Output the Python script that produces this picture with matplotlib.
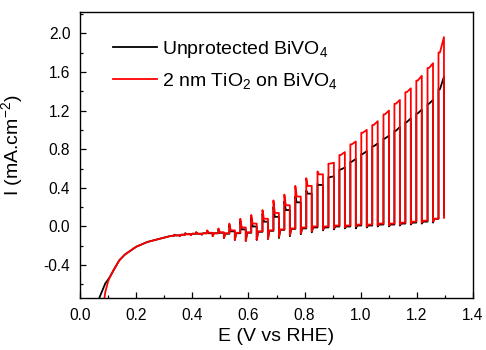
import numpy as np
import matplotlib
matplotlib.use('Agg')
import matplotlib.pyplot as plt

plt.rcParams['font.family'] = ['Liberation Sans', 'DejaVu Sans']
plt.rcParams['mathtext.fontset'] = 'custom'
plt.rcParams['mathtext.rm'] = 'Liberation Sans'
plt.rcParams['mathtext.default'] = 'regular'
plt.rcParams['axes.unicode_minus'] = False

# dark scan before the first light pulse (E in V vs RHE, I in mA/cm2)
dark_E = [0.06, 0.07, 0.08, 0.09, 0.10, 0.107, 0.12, 0.14, 0.16, 0.18,
          0.20, 0.24, 0.28, 0.32]
dark_black = [-0.86, -0.73, -0.66, -0.59, -0.55, -0.52, -0.45, -0.35, -0.29,
              -0.25, -0.21, -0.16, -0.13, -0.10]
dark_red = [np.nan, np.nan, -0.90, -0.68, -0.57, -0.52, -0.45, -0.35, -0.29,
            -0.25, -0.21, -0.16, -0.13, -0.10]

# chopped light: potential where each light pulse starts
onset_E = [0.336, 0.375, 0.414, 0.453, 0.493, 0.532, 0.571, 0.610, 0.650,
           0.689, 0.728, 0.767, 0.806, 0.846, 0.885, 0.924, 0.963, 1.002,
           1.041, 1.081, 1.120, 1.159, 1.198, 1.238, 1.277]

# red: 2 nm TiO2 on BiVO4
red_before = [-0.095, -0.085, -0.075, -0.07, -0.07, -0.07, -0.065, -0.06, -0.05,
              -0.04, -0.03, -0.02, -0.01, 0.00, 0.00, 0.01, 0.01, 0.02,
              0.02, 0.03, 0.03, 0.04, 0.05, 0.06, 0.08]
red_spike = [-0.085, -0.07, -0.06, -0.04, -0.02, 0.03, 0.08, 0.12, 0.17,
             0.27, 0.33, 0.42, 0.50, 0.57, 0.65, 0.74, 0.85, 0.97,
             1.05, 1.16, 1.27, 1.39, 1.51, 1.64, 1.80]
red_top = [-0.092, -0.08, -0.075, -0.065, -0.06, -0.04, -0.01, 0.03, 0.08,
           0.14, 0.22, 0.31, 0.42, 0.54, 0.66, 0.77, 0.88, 1.00,
           1.09, 1.20, 1.31, 1.43, 1.56, 1.69, 1.96]
red_under = [-0.10, -0.09, -0.085, -0.10, -0.12, -0.14, -0.15, -0.14, -0.13,
             -0.11, -0.09, -0.07, -0.05, -0.03, -0.02, -0.01, 0.00, 0.00,
             0.01, 0.01, 0.02, 0.03, 0.04, 0.05, 0.09]

# black: unprotected BiVO4
black_before = [-0.095, -0.085, -0.075, -0.07, -0.07, -0.075, -0.07, -0.065, -0.055,
                -0.045, -0.035, -0.025, -0.02, -0.01, -0.01, 0.00, 0.00, 0.01,
                0.01, 0.02, 0.02, 0.03, 0.04, 0.05, 0.08]
black_spike = [-0.085, -0.07, -0.06, -0.045, -0.03, 0.01, 0.05, 0.09, 0.13,
               0.20, 0.26, 0.31, 0.37, 0.44, 0.51, 0.59, 0.67, 0.75,
               0.83, 0.91, 0.99, 1.08, 1.17, 1.27, 1.42]
black_top = [-0.092, -0.08, -0.075, -0.07, -0.065, -0.05, -0.03, 0.00, 0.05,
             0.10, 0.17, 0.25, 0.34, 0.43, 0.52, 0.61, 0.70, 0.78,
             0.86, 0.94, 1.03, 1.12, 1.21, 1.31, 1.55]
black_under = [-0.10, -0.09, -0.085, -0.10, -0.12, -0.14, -0.15, -0.14, -0.13,
               -0.12, -0.10, -0.08, -0.06, -0.04, -0.03, -0.02, -0.02, -0.01,
               0.00, 0.00, 0.01, 0.02, 0.03, 0.04, 0.11]

ON = 0.0195      # light-on span of each chop (V)
SETTLE = 0.005   # transient width (V)


def chopped(E0, I0, onsets, before, spike, top, under):
    """Build the chopped-light LSV trace from the per-pulse levels."""
    E = list(E0)
    I = list(I0)
    n = len(onsets)
    for k in range(n):
        e = onsets[k]
        E += [e, e, e + SETTLE, e + ON, e + ON]
        I += [before[k], spike[k], min(spike[k], top[k]), top[k], under[k]]
        if k < n - 1:
            E += [e + ON + SETTLE, onsets[k + 1]]
            I += [before[k + 1], before[k + 1]]
    return E, I


Eb, Ib = chopped(dark_E, dark_black, onset_E, black_before, black_spike,
                 black_top, black_under)
Er, Ir = chopped(dark_E, dark_red, onset_E, red_before, red_spike,
                 red_top, red_under)

fig = plt.figure(figsize=(4.86, 3.5), dpi=100)
ax = fig.add_axes([0.1646, 0.1486, 0.8087, 0.8171])

ax.plot(Eb, Ib, color='black', lw=1.3, label='Unprotected BiVO$_4$')
ax.plot(Er, Ir, color='#ff0000', lw=1.3, label='2 nm TiO$_2$ on BiVO$_4$')

ax.set_xlim(0.0, 1.4)
ax.set_ylim(-0.74, 2.22)
ax.set_xticks(np.arange(0.0, 1.41, 0.2))
ax.set_xticks(np.arange(0.1, 1.4, 0.2), minor=True)
ax.set_yticks(np.arange(-0.4, 2.01, 0.4))
ax.set_yticks(np.arange(-0.6, 2.21, 0.4), minor=True)
ax.set_xticklabels(['%.1f' % v for v in np.arange(0.0, 1.41, 0.2)])
ax.set_yticklabels(['%.1f' % v for v in np.arange(-0.4, 2.01, 0.4)])
ax.tick_params(which='both', direction='in', top=False, right=False,
               labelsize=11.2, width=0.9)
ax.tick_params(which='major', length=4, pad=7)
ax.tick_params(which='minor', length=2.5)
for s in ax.spines.values():
    s.set_linewidth(1.0)

ax.set_xlabel('E (V vs RHE)', fontsize=14, labelpad=4)
ax.set_ylabel('I (mA.cm$^{-2}$)', fontsize=14)
ax.yaxis.set_label_coords(-0.14, 0.535)

ax.legend(loc='upper left', bbox_to_anchor=(0.232, 0.89),
          bbox_transform=fig.transFigure, frameon=False, fontsize=14,
          handlelength=2.27, handletextpad=0.27, labelspacing=0.6,
          borderpad=0, borderaxespad=0)

fig.savefig('out.png', dpi=100)
